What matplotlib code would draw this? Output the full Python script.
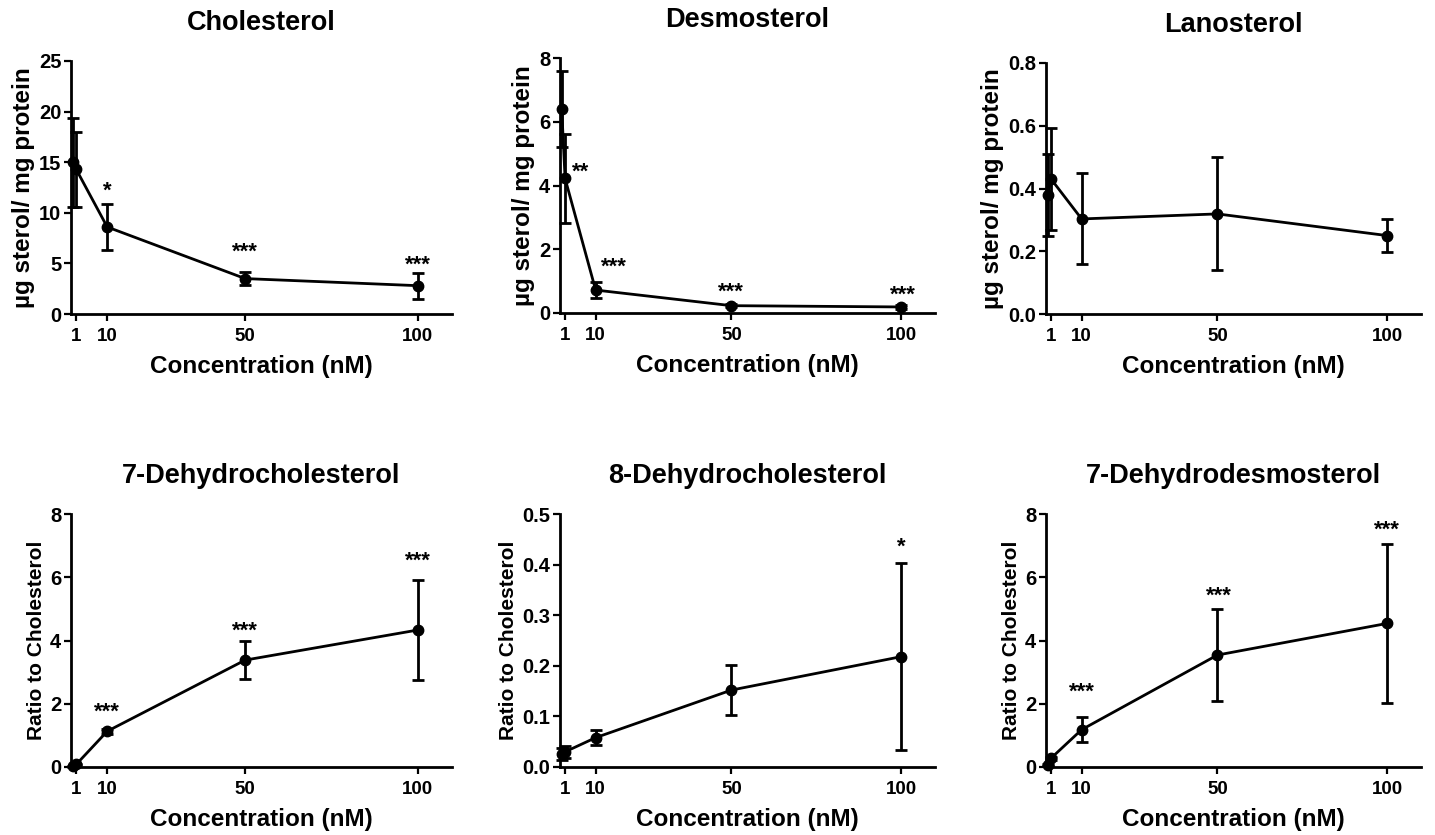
import matplotlib
matplotlib.use("Agg")
import matplotlib.pyplot as plt

plt.rcParams['font.family'] = ['Liberation Sans', 'DejaVu Sans']
plt.rcParams['font.weight'] = 'bold'
plt.rcParams['axes.labelweight'] = 'bold'
plt.rcParams['axes.titleweight'] = 'bold'

# concentrations (nM); 0 = vehicle control
conc = [0, 1, 10, 50, 100]
xticks = [1, 10, 50, 100]

# sterol levels (ug sterol / mg protein), mean and error
chol_mean = [15.0, 14.3, 8.6, 3.5, 2.8]
chol_err = [4.4, 3.7, 2.3, 0.65, 1.3]
desmo_mean = [6.4, 4.22, 0.72, 0.23, 0.19]
desmo_err = [1.2, 1.4, 0.26, 0.05, 0.05]
lano_mean = [0.38, 0.43, 0.303, 0.319, 0.25]
lano_err = [0.13, 0.163, 0.145, 0.18, 0.052]

# ratios to cholesterol
dhc7_mean = [0.02, 0.08, 1.13, 3.38, 4.33]
dhc7_err = [0.02, 0.03, 0.08, 0.6, 1.58]
dhc8_mean = [0.026, 0.030, 0.058, 0.152, 0.218]
dhc8_err = [0.012, 0.012, 0.015, 0.049, 0.185]
dhd7_mean = [0.05, 0.28, 1.18, 3.54, 4.54]
dhd7_err = [0.03, 0.05, 0.4, 1.46, 2.52]

# significance marks: x, top of the mark (data units), text
chol_stars = ([10, 50, 100], [13.2, 7.1, 5.9], ['*', '***', '***'])
desmo_stars = ([5.7, 15.5, 50, 100.5], [4.75, 1.78, 0.97, 0.9], ['**', '***', '***', '***'])
lano_stars = ([], [], [])
dhc7_stars = ([10, 50, 100], [2.05, 4.64, 6.83], ['***', '***', '***'])
dhc8_stars = ([100], [0.455], ['*'])
dhd7_stars = ([10, 50.5, 100], [2.7, 5.74, 7.83], ['***', '***', '***'])

panels = [
    ('Cholesterol', chol_mean, chol_err, chol_stars, (0, 25), [0, 5, 10, 15, 20, 25], '{:.0f}', 'µg sterol/ mg protein'),
    ('Desmosterol', desmo_mean, desmo_err, desmo_stars, (0, 8), [0, 2, 4, 6, 8], '{:.0f}', 'µg sterol/ mg protein'),
    ('Lanosterol', lano_mean, lano_err, lano_stars, (0, 0.8), [0, 0.2, 0.4, 0.6, 0.8], '{:.1f}', 'µg sterol/ mg protein'),
    ('7-Dehydrocholesterol', dhc7_mean, dhc7_err, dhc7_stars, (0, 8), [0, 2, 4, 6, 8], '{:.0f}', 'Ratio to Cholesterol'),
    ('8-Dehydrocholesterol', dhc8_mean, dhc8_err, dhc8_stars, (0, 0.5), [0, 0.1, 0.2, 0.3, 0.4, 0.5], '{:.1f}', 'Ratio to Cholesterol'),
    ('7-Dehydrodesmosterol', dhd7_mean, dhd7_err, dhd7_stars, (0, 8), [0, 2, 4, 6, 8], '{:.0f}', 'Ratio to Cholesterol'),
]

W, H = 1435, 835
fig = plt.figure(figsize=(W / 100, H / 100), dpi=100)

# axes boxes in pixels: left, top, right, bottom
boxes = [
    (71, 61, 452, 314), (560, 58, 935, 313), (1046, 63, 1421, 314),
    (71, 514, 452, 767), (560, 514, 935, 767), (1046, 514, 1421, 767),
]

for i, (title, mean, err, stars, ylim, yticks, fmt, ylabel) in enumerate(panels):
    l, t, r, b = boxes[i]
    ax = fig.add_axes([l / W, 1 - b / H, (r - l) / W, (b - t) / H])
    ax.errorbar(conc, mean, yerr=err, color='black', lw=2, marker='o', ms=7.5,
                capsize=4, capthick=2, elinewidth=2, clip_on=False, zorder=3)
    for sx, sy, st in zip(*stars):
        ax.text(sx, sy, st, ha='center', va='top', fontsize=16, fontweight='bold')
    ax.set_xlim(-0.5, 110)
    ax.set_ylim(*ylim)
    ax.set_xticks(xticks)
    ax.set_yticks(yticks)
    ax.set_yticklabels([fmt.format(v) for v in yticks])
    ax.tick_params(direction='out', length=5, width=1.6)
    ax.tick_params(axis='x', labelsize=13.5, pad=5)
    ax.tick_params(axis='y', labelsize=14.5, pad=2)
    for side in ['top', 'right']:
        ax.spines[side].set_visible(False)
    for side in ['left', 'bottom']:
        ax.spines[side].set_linewidth(2)
    ax.set_title(title, fontsize=19.5, pad=22)
    ax.set_xlabel('Concentration (nM)', fontsize=17.5, labelpad=7)
    ax.set_ylabel(ylabel, fontsize=17.5 if i < 3 else 15, labelpad=3)

fig.savefig('out.png', dpi=100)
